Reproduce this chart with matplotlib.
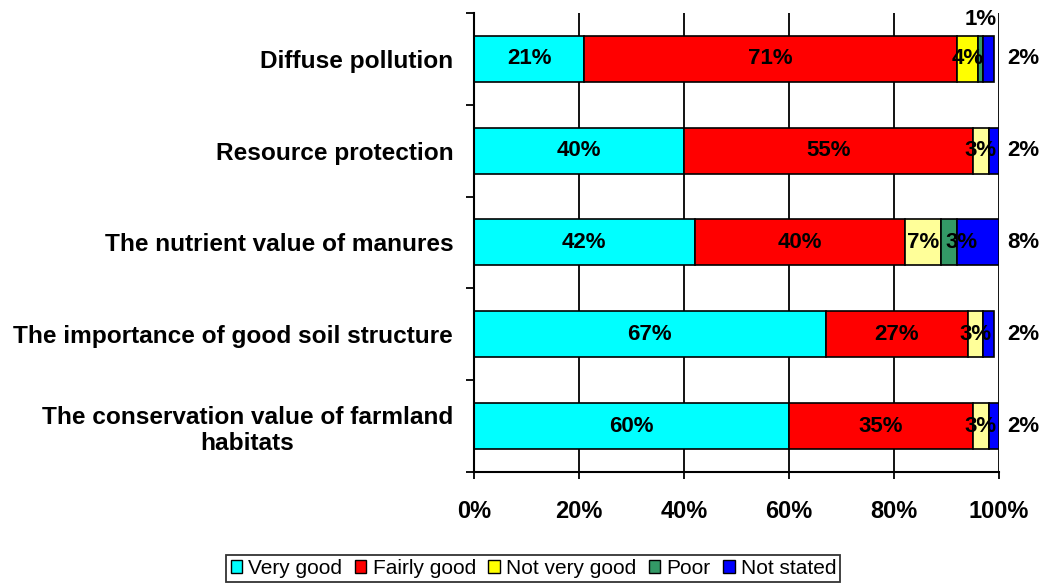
import numpy as np
import matplotlib
matplotlib.use("Agg")
from matplotlib import pyplot as plt
from matplotlib.patches import Patch

plt.rcParams['font.family'] = ['Liberation Sans', 'DejaVu Sans']

categories = ["Diffuse pollution",
              "Resource protection",
              "The nutrient value of manures",
              "The importance of good soil structure",
              "The conservation value of farmland\nhabitats"]
series = ["Very good", "Fairly good", "Not very good", "Poor", "Not stated"]
very_good = [21, 40, 42, 67, 60]
fairly_good = [71, 55, 40, 27, 35]
not_very_good = [4, 3, 7, 3, 3]
poor = [1, 0, 3, 0, 0]
not_stated = [2, 2, 8, 2, 2]
xticks = [0, 20, 40, 60, 80, 100]

colors = ["#00FFFF", "#FF0000", "#FFFF00", "#339966", "#0000FF"]
# excel drew the yellow paler on every bar except the first one
yellow_per_bar = ["#FFFF00", "#FFFF99", "#FFFF99", "#FFFF99", "#FFFF99"]

fig = plt.figure(figsize=(10.45, 5.87), dpi=100)
ax = fig.add_axes([0.4536, 0.196, 0.5024, 0.782])

fs = 16
y = np.arange(len(categories))
data = [very_good, fairly_good, not_very_good, poor, not_stated]
left = np.zeros(len(categories))
for i, vals in enumerate(data):
    vals = np.array(vals, dtype=float)
    col = yellow_per_bar if i == 2 else colors[i]
    ax.barh(y, vals, left=left, height=0.5, color=col, edgecolor="black",
            linewidth=1.2, zorder=3)
    for j, v in enumerate(vals):
        if v == 0:
            continue
        xpos, ypos = left[j] + v / 2, y[j]
        if i == 4:
            # not stated labels sit outside the plot area
            xpos = 104.6
        elif i == 3 and v < 2:
            ypos = y[j] - 0.43
        elif i == 3:
            xpos += 2.3
        ax.text(xpos, ypos, "%d%%" % v, ha="center", va="center",
                fontsize=fs, fontweight="bold", zorder=5)
    left += vals

ax.set_xlim(0, 100)
ax.set_ylim(len(categories) - 0.5, -0.5)
ax.set_xticks(xticks)
ax.set_xticklabels(["%d%%" % t for t in xticks], fontsize=17, fontweight="bold")
ax.tick_params(axis="x", direction="out", length=5, width=1.3, pad=15)

ax.set_yticks(y)
ax.set_yticklabels(categories, fontsize=17.6, fontweight="bold",
                   multialignment="center")
ax.set_yticks(np.arange(-0.5, len(categories)), minor=True)
ax.tick_params(axis="y", which="major", length=0, pad=15)
ax.tick_params(axis="y", which="minor", direction="out", length=6, width=1.3)

ax.grid(axis="x", color="black", linewidth=1.3, zorder=0)
for s in ["top", "right"]:
    ax.spines[s].set_visible(False)
for s in ["left", "bottom"]:
    ax.spines[s].set_linewidth(1.5)
    ax.spines[s].set_zorder(4)

handles = [Patch(facecolor=c, edgecolor="black", linewidth=1) for c in colors]
leg = fig.legend(handles, series, loc="lower center", ncol=5,
                 bbox_to_anchor=(0.5105, -0.002), fontsize=15, frameon=True,
                 fancybox=False, edgecolor="black", handlelength=0.55,
                 handleheight=0.55, handletextpad=0.3, columnspacing=0.6,
                 borderpad=0.2, borderaxespad=0.3)
leg.get_frame().set_linewidth(1.3)

fig.savefig("out.png", dpi=100)
